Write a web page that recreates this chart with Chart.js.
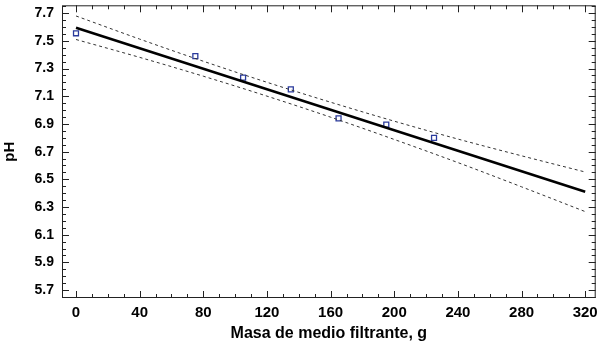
<!DOCTYPE html>
<html>
<head>
<meta charset="utf-8">
<script src="https://cdn.jsdelivr.net/npm/chart.js@4.4.0/dist/chart.umd.min.js"></script>
<style>
  body { margin: 0; background: #fff; }
</style>
</head>
<body>
<canvas id="phChart" width="601" height="345"></canvas>
<script>
// measured points
const masa = [0, 75, 105, 135, 165, 195, 225];
const ph = [7.555, 7.39, 7.235, 7.15, 6.94, 6.895, 6.80];

// fitted line (read at both ends)
const fitX = [0, 320];
const fitY = [7.595, 6.41];

// confidence limits
const bandX = [0, 40, 80, 120, 160, 200, 240, 280, 320];
const bandUpper = [7.680, 7.513, 7.353, 7.201, 7.057, 6.920, 6.791, 6.670, 6.553];
const bandLower = [7.510, 7.381, 7.245, 7.101, 6.949, 6.788, 6.621, 6.446, 6.267];

const xTicks = [0, 40, 80, 120, 160, 200, 240, 280, 320];
const yTicks = [5.7, 5.9, 6.1, 6.3, 6.5, 6.7, 6.9, 7.1, 7.3, 7.5, 7.7];

function pairs(xs, ys) {
  return xs.map((x, i) => ({ x: x, y: ys[i] }));
}

// the labels may overhang, don't let them shrink the plot
function noPad(s) {
  s.paddingTop = 0; s.paddingBottom = 0;
  s.paddingLeft = 0; s.paddingRight = 0;
}

// frame + inward ticks on all four sides
const frameTicks = {
  id: "frameTicks",
  afterDraw(chart) {
    const { ctx, chartArea: a, scales } = chart;
    ctx.save();
    ctx.strokeStyle = "#222";
    ctx.lineWidth = 1;
    ctx.strokeRect(a.left + 0.5, a.top + 0.5, a.right - a.left - 1, a.bottom - a.top - 1);
    ctx.beginPath();
    for (let v = 0; v <= 320; v += 10) {
      const px = Math.round(scales.x.getPixelForValue(v)) + 0.5;
      const len = v % 40 === 0 ? 7 : 4;
      ctx.moveTo(px, a.bottom); ctx.lineTo(px, a.bottom - len);
      ctx.moveTo(px, a.top); ctx.lineTo(px, a.top + len);
    }
    for (let i = 0; i <= 42; i++) {
      const v = 5.65 + i * 0.05;
      if (v > scales.y.max) break;
      const py = Math.round(scales.y.getPixelForValue(v)) + 0.5;
      const len = Math.round(v * 100) % 20 === 10 ? 7 : 4;
      ctx.moveTo(a.left, py); ctx.lineTo(a.left + len, py);
      ctx.moveTo(a.right, py); ctx.lineTo(a.right - len, py);
    }
    ctx.stroke();
    ctx.restore();
  }
};

const data = {
  datasets: [
    {
      label: "upper",
      type: "line",
      data: pairs(bandX, bandUpper),
      borderColor: "#333",
      borderWidth: 1,
      borderDash: [3, 3],
      pointRadius: 0,
      cubicInterpolationMode: "monotone",
      fill: false
    },
    {
      label: "lower",
      type: "line",
      data: pairs(bandX, bandLower),
      borderColor: "#333",
      borderWidth: 1,
      borderDash: [3, 3],
      pointRadius: 0,
      cubicInterpolationMode: "monotone",
      fill: false
    },
    {
      label: "fit",
      type: "line",
      data: pairs(fitX, fitY),
      borderColor: "#000",
      borderWidth: 2.5,
      pointRadius: 0,
      fill: false
    },
    {
      label: "pH",
      type: "scatter",
      data: pairs(masa, ph),
      pointStyle: "rect",
      pointRadius: 3.5,
      pointBorderWidth: 1.3,
      pointBorderColor: "#2a3a9c",
      pointBackgroundColor: "rgba(255,255,255,0)"
    }
  ]
};

const config = {
  type: "scatter",
  data: data,
  plugins: [frameTicks],
  options: {
    responsive: false,
    animation: false,
    layout: { padding: { top: 2, right: 5, left: 0, bottom: 0 } },
    plugins: {
      legend: { display: false },
      tooltip: { enabled: false }
    },
    scales: {
      x: {
        type: "linear",
        min: -8.8,
        max: 326.6,
        grid: { display: false, drawTicks: false },
        border: { display: false },
        afterBuildTicks: (s) => { s.ticks = xTicks.map(v => ({ value: v })); },
        afterFit: (s) => { s.height = 47; noPad(s); },
        ticks: {
          padding: 6,
          color: "#000",
          font: { family: "'Liberation Sans', Arial, sans-serif", size: 15, weight: "bold" },
          maxRotation: 0
        },
        title: {
          display: true,
          text: "Masa de medio filtrante, g",
          color: "#000",
          padding: { top: 0, bottom: 2 },
          font: { family: "'Liberation Sans', Arial, sans-serif", size: 16, weight: "bold" }
        }
      },
      y: {
        type: "linear",
        min: 5.643,
        max: 7.757,
        grid: { display: false, drawTicks: false },
        border: { display: false },
        afterBuildTicks: (s) => { s.ticks = yTicks.map(v => ({ value: v })); },
        afterFit: (s) => { s.width = 62; noPad(s); },
        ticks: {
          padding: 8,
          color: "#000",
          font: { family: "'Liberation Sans', Arial, sans-serif", size: 14, weight: "bold" },
          callback: (v) => v.toFixed(1)
        },
        title: {
          display: true,
          text: "pH",
          color: "#000",
          padding: { top: 1, bottom: 0 },
          font: { family: "'Liberation Sans', Arial, sans-serif", size: 15, weight: "bold" }
        }
      }
    }
  }
};

let myChart = new Chart(document.getElementById("phChart"), config);
</script>
</body>
</html>
